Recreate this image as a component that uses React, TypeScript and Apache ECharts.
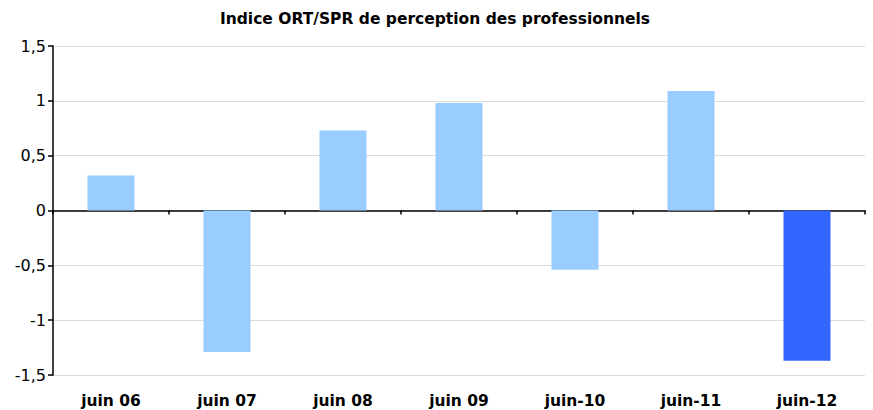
import React, { useEffect, useRef } from "react";
import * as echarts from "echarts";

const categories = ["juin 06", "juin 07", "juin 08", "juin 09", "juin-10", "juin-11", "juin-12"];
const values = [0.32, -1.29, 0.73, 0.98, -0.54, 1.09, -1.37];
const barColors = ["#99CCFF", "#99CCFF", "#99CCFF", "#99CCFF", "#99CCFF", "#99CCFF", "#3366FF"];
const titleText = "Indice ORT/SPR de perception des professionnels";

export default function App() {
  const ref = useRef<HTMLDivElement>(null);
  useEffect(() => {
    if (!ref.current) return;
    const chart = echarts.init(ref.current, null, { renderer: "svg" });
    chart.setOption({
      animation: false,
      backgroundColor: "#ffffff",
      title: {
        text: titleText,
        left: 430,
        textAlign: "center",
        top: 6,
        textStyle: { fontFamily: "DejaVu Sans", fontWeight: "bold", fontSize: 15.5, color: "#000" },
      },
      grid: { left: 53, right: 8, top: 46, bottom: 35, containLabel: false },
      xAxis: [
        {
          type: "category",
          data: categories,
          axisLine: { onZero: true, lineStyle: { color: "#000", width: 1.5 } },
          axisTick: { show: true, length: 4, lineStyle: { color: "#000", width: 1.5 } },
          axisLabel: { show: false },
          splitLine: { show: false },
        },
        {
          type: "category",
          data: categories,
          position: "bottom",
          axisLine: { show: false, onZero: false },
          axisTick: { show: false },
          axisLabel: {
            show: true,
            margin: 18,
            fontFamily: "DejaVu Sans",
            fontWeight: "bold",
            fontSize: 15.5,
            color: "#000",
          },
        },
      ],
      yAxis: {
        type: "value",
        min: -1.5,
        max: 1.5,
        interval: 0.5,
        axisLine: { show: true, lineStyle: { color: "#000", width: 1.5 } },
        axisTick: { show: true, length: 5, lineStyle: { color: "#000", width: 1.5 } },
        axisLabel: {
          margin: 7,
          fontFamily: "DejaVu Sans",
          fontSize: 16,
          color: "#000",
          formatter: (v: number) => String(v).replace(".", ","),
        },
        splitLine: { show: true, lineStyle: { color: "#dcdcdc", width: 1.2 } },
      },
      series: [
        {
          type: "bar",
          xAxisIndex: 0,
          barWidth: 47,
          data: values.map((v, i) => ({ value: v, itemStyle: { color: barColors[i] } })),
        },
      ],
    });
    return () => chart.dispose();
  }, []);
  return <div ref={ref} style={{ width: 873, height: 410, position: "absolute", left: 0, top: 0 }} />;
}
